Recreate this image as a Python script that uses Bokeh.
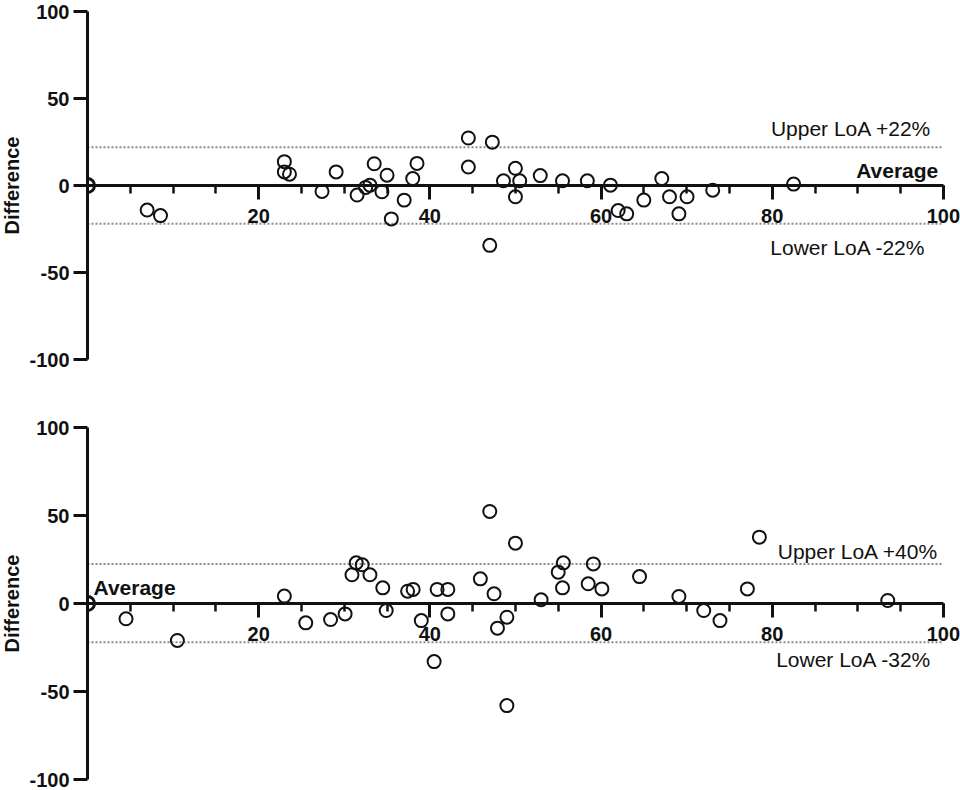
from bokeh.plotting import figure
from bokeh.layouts import column
from bokeh.models import Range1d, SingleIntervalTicker, FixedTicker, Label
from bokeh.embed import file_html
from bokeh.resources import INLINE

# ---------------- data ----------------
top_x = [6.97, 8.53, 23.0, 23.0, 23.6, 27.4, 29.05, 31.5, 32.5, 33.0, 33.5, 34.4, 35.0,
         35.5, 37.0, 38.0, 38.5, 44.5, 44.5, 47.3, 47.0, 48.6, 50.0, 50.5, 50.0, 52.9,
         55.5, 58.4, 61.1, 62.0, 63.0, 65.0, 67.1, 68.0, 70.05, 69.1, 73.05, 82.5]
top_y = [-14.1, -17.3, 13.7, 7.8, 6.5, -3.4, 7.8, -5.5, -1.1, 0.2, 12.5, -3.6, 5.9,
         -19.2, -8.4, 4.0, 12.7, 27.3, 10.6, 24.9, -34.4, 2.7, 9.9, 2.7, -6.5, 5.7,
         2.7, 2.7, 0.2, -14.4, -16.3, -8.4, 4.0, -6.5, -6.5, -16.3, -2.7, 0.8]

bot_x = [4.5, 10.5, 23.0, 25.5, 28.4, 30.1, 30.9, 31.4, 32.1, 33.0, 34.5, 34.9, 37.4,
         38.05, 39.0, 40.5, 40.85, 42.1, 42.1, 45.9, 47.0, 47.5, 49.0, 47.9, 49.0, 50.0,
         53.0, 55.6, 55.0, 55.5, 58.5, 59.1, 60.1, 64.5, 69.1, 72.0, 73.9, 77.1, 78.5, 93.5]
bot_y = [-8.7, -21.0, 4.2, -11.0, -9.1, -5.9, 16.3, 23.1, 22.0, 16.3, 8.9, -4.0, 7.0,
         8.0, -9.7, -33.0, 8.0, 8.0, -5.9, 14.0, 52.3, 5.5, -7.8, -14.0, -58.0, 34.3,
         2.1, 23.1, 17.8, 8.9, 11.2, 22.5, 8.3, 15.3, 4.0, -4.0, -9.7, 8.3, 37.7, 1.7]

origin_x = [0]
origin_y = [0]

top_loa = [22, -22]
bot_loa = [22.5, -22]

top_texts = ["Upper LoA +22%", "Lower LoA  -22%", "Average"]
bot_texts = ["Upper LoA +40%", "Lower LoA -32%", "Average"]

y_ticks = [-100, -50, 0, 50, 100]
y_tick_labels = ["-100", "-50", "0", "50", "100"]
y_title = "Difference"
x_min, x_max = 0, 100
y_min, y_max = -100, 100

FONT = "Liberation Sans"
INK = "#111111"


def make_panel(xs, ys, loa, texts, text_pos, border_top, border_bottom, frame_h):
    p = figure(frame_width=873, frame_height=frame_h,
               x_range=Range1d(x_min, 102), y_range=Range1d(y_min, y_max),
               min_border_left=95, min_border_right=0,
               min_border_top=border_top, min_border_bottom=border_bottom,
               toolbar_location=None, output_backend="svg")
    p.outline_line_color = None
    p.grid.visible = False
    p.background_fill_color = "white"

    # LoA dotted lines
    p.segment(x0=[x_min] * len(loa), x1=[x_max] * len(loa), y0=loa, y1=loa,
              line_color="#8a8a8a", line_width=2, line_dash="2 2")

    # x axis at y = 0
    xa = p.xaxis[0]
    xa.fixed_location = 0
    xa.bounds = (x_min, x_max)
    xa.ticker = SingleIntervalTicker(interval=20, num_minor_ticks=4)
    xa.major_label_overrides = {0: ""}
    xa.axis_line_width = 3
    xa.axis_line_color = INK
    xa.major_tick_in = 0
    xa.major_tick_out = 14
    xa.minor_tick_in = 0
    xa.minor_tick_out = 8
    xa.major_tick_line_width = 3
    xa.minor_tick_line_width = 2.5
    xa.major_tick_line_color = INK
    xa.minor_tick_line_color = INK
    xa.major_label_standoff = 9
    xa.major_label_text_font = FONT
    xa.major_label_text_font_style = "bold"
    xa.major_label_text_font_size = "20px"
    xa.major_label_text_color = INK

    # y axis on the left edge (x = 0)
    ya = p.yaxis[0]
    ya.bounds = (y_min, y_max)
    ya.ticker = FixedTicker(ticks=y_ticks)
    ya.major_label_overrides = dict(zip(y_ticks, y_tick_labels))
    ya.axis_line_width = 3
    ya.axis_line_color = INK
    ya.major_tick_in = 0
    ya.major_tick_out = 14
    ya.minor_tick_out = 0
    ya.minor_tick_in = 0
    ya.major_tick_line_width = 3
    ya.major_tick_line_color = INK
    ya.major_label_standoff = 4
    ya.major_label_text_font = FONT
    ya.major_label_text_font_style = "bold"
    ya.major_label_text_font_size = "20px"
    ya.major_label_text_color = INK
    ya.axis_label = y_title
    ya.axis_label_text_font = FONT
    ya.axis_label_text_font_style = "bold"
    ya.axis_label_text_font_size = "20px"
    ya.axis_label_text_color = INK
    ya.axis_label_standoff = 3

    # points
    p.scatter(xs, ys, marker="circle", size=13, fill_alpha=0,
              line_color=INK, line_width=2)
    p.scatter(origin_x, origin_y, marker="circle_cross", size=14, fill_alpha=0,
              line_color=INK, line_width=3)

    for t, (lx, ly, align, bold) in zip(texts, text_pos):
        p.add_layout(Label(x=lx, y=ly, text=t, text_align=align,
                           text_baseline="middle", text_font=FONT,
                           text_font_size="21px",
                           text_font_style="bold" if bold else "normal",
                           text_color=INK))
    return p


top_pos = [(98.6, 32.5, "right", False), (98.6, -35.9, "right", False),
           (99.4, 8.5, "right", True)]
bot_pos = [(99.4, 29.7, "right", False), (98.6, -32.0, "right", False),
           (0.7, 9.3, "left", True)]

p1 = make_panel(top_x, top_y, top_loa, top_texts, top_pos, 11, 30, 348)
p2 = make_panel(bot_x, bot_y, bot_loa, bot_texts, bot_pos, 38, 11, 352)

# shift the layout 8px to the left so the frame edge sits at x = 87
layout = column(p1, p2, styles={"margin-left": "-8px"})

open("out.html", "w").write(file_html(layout, INLINE))
